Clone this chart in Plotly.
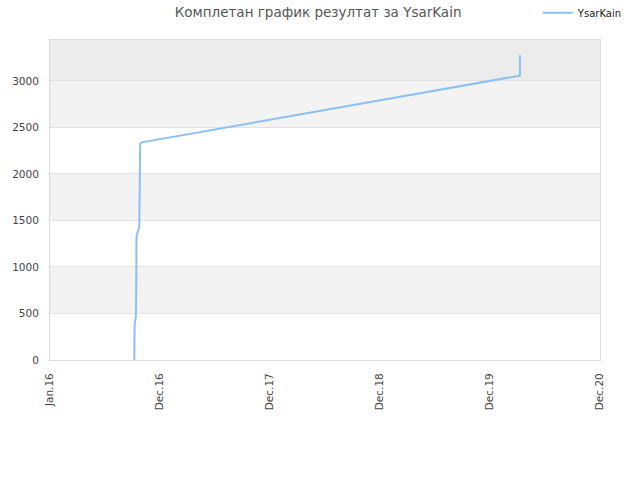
import plotly.graph_objects as go

dates = ["2016-10-03", "2016-10-03", "2016-10-04", "2016-10-04", "2016-10-07", "2016-10-08",
         "2016-10-09", "2016-10-09", "2016-10-10", "2016-10-10", "2016-10-15", "2016-10-19",
         "2016-10-20", "2016-10-20", "2016-10-21", "2016-10-21", "2016-10-22", "2016-10-23",
         "2016-10-27", "2020-03-18", "2020-03-18", "2020-03-18"]
scores = [0, 130, 260, 390, 440, 470, 700, 950, 1150, 1330, 1390, 1420,
          1700, 1950, 2150, 2170, 2300, 2330, 2340, 3057, 3170, 3280]

tick_vals = ["2016-01-01", "2016-12-26", "2017-12-21", "2018-12-16", "2019-12-11", "2020-12-05"]
tick_text = ["Jan.16", "Dec.16", "Dec.17", "Dec.18", "Dec.19", "Dec.20"]
y_ticks = [0, 500, 1000, 1500, 2000, 2500, 3000]
y_max = 3440

fig = go.Figure()
fig.add_trace(go.Scatter(x=dates, y=scores, mode="lines", name="YsarKain",
                         line=dict(color="#8dc0f2", width=2)))

shapes = []
bands = [(500, 1000, "#f3f3f3"), (1500, 2000, "#f3f3f3"), (2500, 3000, "#f3f3f3"), (3000, y_max, "#ececec")]
for y0, y1, c in bands:
    shapes.append(dict(type="rect", xref="paper", yref="y", x0=0, x1=1, y0=y0, y1=y1,
                       fillcolor=c, line=dict(width=0), layer="below"))
fig.update_layout(shapes=shapes)

fig.update_layout(
    width=640, height=480,
    margin=dict(l=50, r=40, t=40, b=120, autoexpand=False),
    paper_bgcolor="white", plot_bgcolor="white",
    font=dict(family="DejaVu Sans", size=10.5, color="#444"),
    title=dict(text="Комплетан график резултат за YsarKain", x=0.497, xanchor="center",
               y=0.975, yanchor="middle", font=dict(size=13.5, color="#555")),
    showlegend=True,
    legend=dict(x=0.887, xanchor="left", y=1.085, yanchor="middle",
                bgcolor="rgba(0,0,0,0)", font=dict(size=10, color="#222")),
    xaxis=dict(type="date", range=["2016-01-01", "2020-12-05"], tickvals=tick_vals,
               ticktext=tick_text, tickangle=-90, showgrid=False, zeroline=False,
               showline=True, linecolor="#dddddd", mirror=True, ticks="", automargin=False,
               ticklabelstandoff=8, tickfont=dict(size=10.5, color="#444")),
    yaxis=dict(range=[0, y_max], tickvals=y_ticks, showgrid=True, gridcolor="#e2e2e2",
               zeroline=False, showline=True, linecolor="#dddddd", mirror=True, ticks="",
               automargin=False, ticklabelstandoff=8, tickfont=dict(size=10.5, color="#444")),
)

fig.write_html("out.html", config={"displayModeBar": False},
               post_script="document.body.style.margin='0';document.body.style.overflow='hidden';")
